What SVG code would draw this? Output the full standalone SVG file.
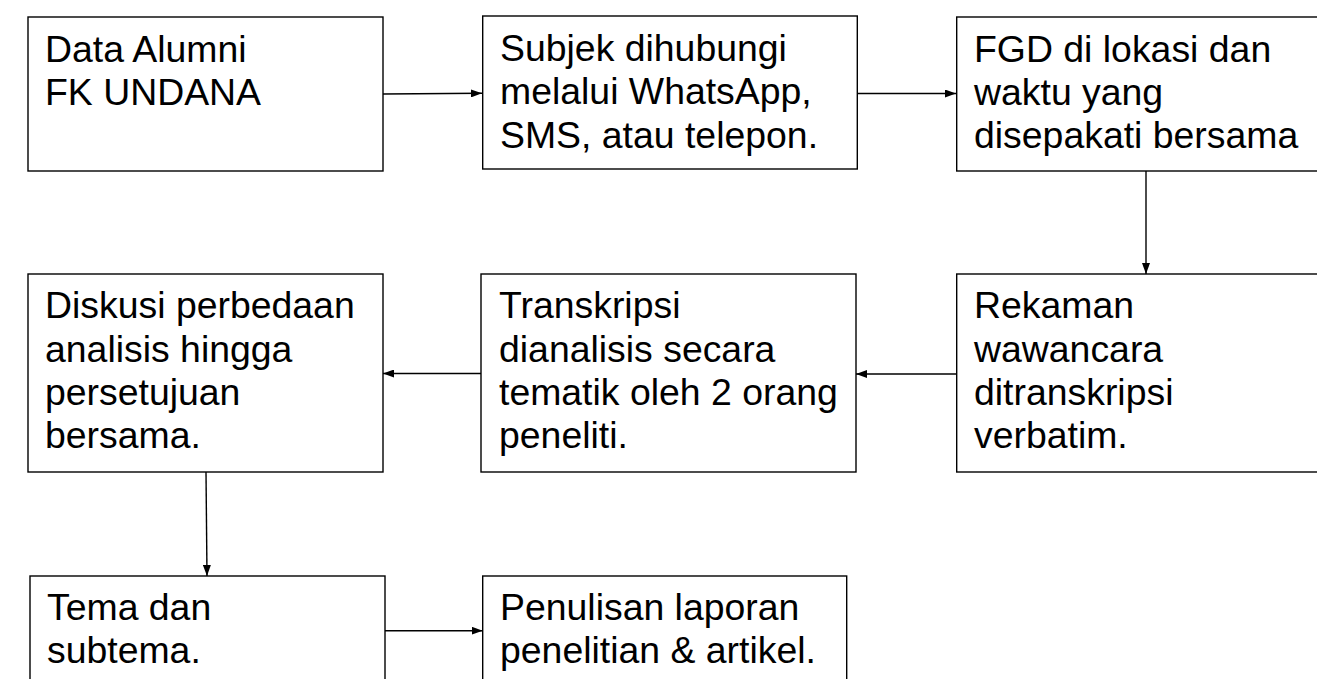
<svg xmlns="http://www.w3.org/2000/svg" width="1317" height="679" viewBox="0 0 1317 679">
<defs>
<marker id="ah" viewBox="0 0 11 8" refX="11" refY="4" markerWidth="11" markerHeight="8" markerUnits="userSpaceOnUse" orient="auto">
<path d="M0,0 L11,4 L0,8 Z" fill="#000"/>
</marker>
</defs>
<style>
.box{fill:#fff;stroke:#000;stroke-width:1.4}
.t{font-family:"Liberation Sans",Arial,sans-serif;font-size:37.4px;fill:#000}
.c{fill:none;stroke:#000;stroke-width:1.4;marker-end:url(#ah)}
</style>
<rect width="1317" height="679" fill="#fff"/>
<g id="n1"><rect class="box" x="28" y="17" width="355" height="154"/>
<text class="t" x="45" y="61.7">Data Alumni</text><text class="t" x="45" y="105">FK UNDANA</text></g>
<g id="n2"><rect class="box" x="482.7" y="16" width="374.6" height="153"/>
<text class="t" x="500" y="61">Subjek dihubungi</text><text class="t" x="500" y="104.3">melalui WhatsApp,</text><text class="t" x="500" y="147.6">SMS, atau telepon.</text></g>
<g id="n3"><rect class="box" x="956.7" y="17" width="380" height="154"/>
<text class="t" x="974" y="61.7">FGD di lokasi dan</text><text class="t" x="974" y="105">waktu yang</text><text class="t" x="974" y="148.3">disepakati bersama</text></g>
<g id="n4"><rect class="box" x="28" y="274" width="355" height="198"/>
<text class="t" x="45" y="318.3">Diskusi perbedaan</text><text class="t" x="45" y="361.6">analisis hingga</text><text class="t" x="45" y="404.9">persetujuan</text><text class="t" x="45" y="448.2">bersama.</text></g>
<g id="n5"><rect class="box" x="481" y="274" width="375" height="198"/>
<text class="t" x="499" y="318.3">Transkripsi</text><text class="t" x="499" y="361.6">dianalisis secara</text><text class="t" x="499" y="404.9">tematik oleh 2 orang</text><text class="t" x="499" y="448.2">peneliti.</text></g>
<g id="n6"><rect class="box" x="956.7" y="274" width="380" height="198"/>
<text class="t" x="974" y="318.3">Rekaman</text><text class="t" x="974" y="361.6">wawancara</text><text class="t" x="974" y="404.9">ditranskripsi</text><text class="t" x="974" y="448.2">verbatim.</text></g>
<g id="n7"><rect class="box" x="30" y="576" width="355" height="150"/>
<text class="t" x="47" y="620">Tema dan</text><text class="t" x="47" y="663.3">subtema.</text></g>
<g id="n8"><rect class="box" x="482.7" y="576" width="364" height="150"/>
<text class="t" x="500" y="620">Penulisan laporan</text><text class="t" x="500" y="663.3">penelitian &amp; artikel.</text></g>
<g id="connectors">
<path class="c" d="M383,94 L482,93.3"/>
<path class="c" d="M857.3,93.5 L956,93.5"/>
<path class="c" d="M1146,171 L1146,274"/>
<path class="c" d="M956.7,374 L856,374"/>
<path class="c" d="M481,373.5 L383,373.5"/>
<path class="c" d="M206,472 L207,576"/>
<path class="c" d="M385,630.7 L482.7,630.7"/>
</g>
</svg>
